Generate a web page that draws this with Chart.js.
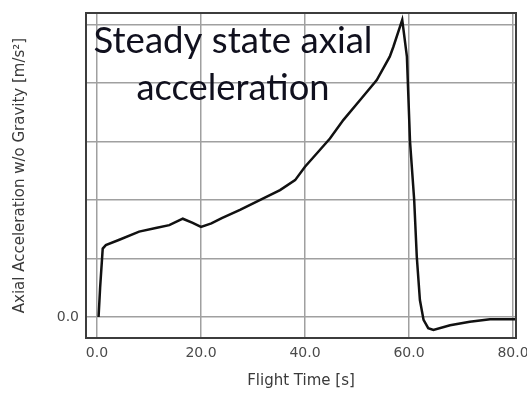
<!DOCTYPE html>
<html>
<head>
<meta charset="utf-8">
<script src="https://cdn.jsdelivr.net/npm/chart.js@4/dist/chart.umd.min.js"></script>
<style>
  html, body { margin: 0; padding: 0; background: #ffffff; }
  #wrap { width: 527px; height: 394px; position: relative; }
</style>
</head>
<body>
<div id="wrap"><canvas id="c" width="527" height="394"></canvas></div>
<script>
// ---- data ----
const flightTime = [0.3, 0.6, 1.1, 1.7, 4.3, 8.1, 11.3, 13.9, 16.5, 18.4, 20.0, 22.0, 24.0, 27.5, 31.3, 35.2, 38.1, 40.0, 42.3, 44.8, 47.4, 50.6, 53.8, 56.3, 57.0, 58.7, 59.6, 60.2, 61.0, 61.5, 62.1, 62.8, 63.7, 64.7, 67.9, 71.7, 75.6, 80.4];
const axialAccel = [0.0, 0.5, 1.17, 1.23, 1.32, 1.46, 1.52, 1.57, 1.68, 1.61, 1.54, 1.6, 1.69, 1.83, 2.0, 2.17, 2.34, 2.57, 2.8, 3.05, 3.37, 3.71, 4.05, 4.45, 4.62, 5.08, 4.45, 3.0, 2.0, 1.03, 0.29, -0.05, -0.19, -0.22, -0.14, -0.08, -0.04, -0.04];
const xTicks = [0, 20, 40, 60, 80];
const yTicks = [0, 1, 2, 3, 4, 5];
const yLabelled = [0];
const xTitle = 'Flight Time [s]';
const yTitle = 'Axial Acceleration w/o Gravity [m/s²]';
const overlayLines = ['Steady state axial', 'acceleration'];

const points = flightTime.map((t, i) => ({ x: t, y: axialAccel[i] }));

const framePlugin = {
  id: 'frame',
  afterDraw(chart) {
    const { ctx, chartArea: a } = chart;
    ctx.save();
    ctx.strokeStyle = '#3c3c3c';
    ctx.lineWidth = 2;
    ctx.strokeRect(a.left, a.top, a.right - a.left, a.bottom - a.top);
    // overlay annotation text
    ctx.fillStyle = '#10101e';
    ctx.textAlign = 'center';
    ctx.textBaseline = 'alphabetic';
    const cx = 233;
    const specs = [[overlayLines[0], 53, 279], [overlayLines[1], 100, 193]];
    ctx.font = '36px Lato, "Open Sans", sans-serif';
    for (const [txt, base, w] of specs) {
      const m = ctx.measureText(txt).width;
      ctx.save();
      ctx.translate(cx, base);
      ctx.scale(w / m, 1);
      ctx.fillText(txt, 0, 0);
      ctx.restore();
    }
    ctx.restore();
  }
};

new Chart(document.getElementById('c'), {
  type: 'line',
  data: {
    datasets: [{
      data: points,
      borderColor: '#111111',
      borderWidth: 2.5,
      pointRadius: 0,
      tension: 0,
      fill: false
    }]
  },
  options: {
    responsive: false,
    animation: false,
    devicePixelRatio: 1,
    layout: { padding: { top: 13, right: 11, left: 0, bottom: 0 } },
    plugins: { legend: { display: false }, tooltip: { enabled: false } },
    scales: {
      x: {
        type: 'linear',
        min: -2.115,
        max: 80.58,
        afterBuildTicks: s => { s.ticks = xTicks.map(v => ({ value: v })); },
        afterFit: s => { s.height = 56; s.paddingLeft = 0; s.paddingRight = 0; },
        grid: { color: '#a0a0a0', lineWidth: 1.5, drawTicks: false },
        border: { display: false },
        ticks: {
          padding: 7,
          color: '#4a4a4a',
          font: { family: 'DejaVu Sans', size: 14 },
          maxRotation: 0,
          callback: v => v.toFixed(1)
        },
        title: {
          display: true,
          text: xTitle,
          color: '#3a3a3a',
          font: { family: 'DejaVu Sans', size: 15 },
          padding: { top: 4, bottom: 4 }
        }
      },
      y: {
        type: 'linear',
        min: -0.359,
        max: 5.197,
        afterBuildTicks: s => { s.ticks = yTicks.map(v => ({ value: v })); },
        afterFit: s => { s.width = 86; s.paddingTop = 0; s.paddingBottom = 0; },
        grid: { color: '#a0a0a0', lineWidth: 1.5, drawTicks: false },
        border: { display: false },
        ticks: {
          padding: 7,
          color: '#4a4a4a',
          font: { family: 'DejaVu Sans', size: 14 },
          callback: v => (yLabelled.includes(v) ? v.toFixed(1) : '')
        },
        title: {
          display: true,
          text: yTitle,
          color: '#3a3a3a',
          font: { family: 'DejaVu Sans', size: 15 },
          padding: { top: 11, bottom: 4 }
        }
      }
    }
  },
  plugins: [framePlugin]
});
</script>
</body>
</html>
